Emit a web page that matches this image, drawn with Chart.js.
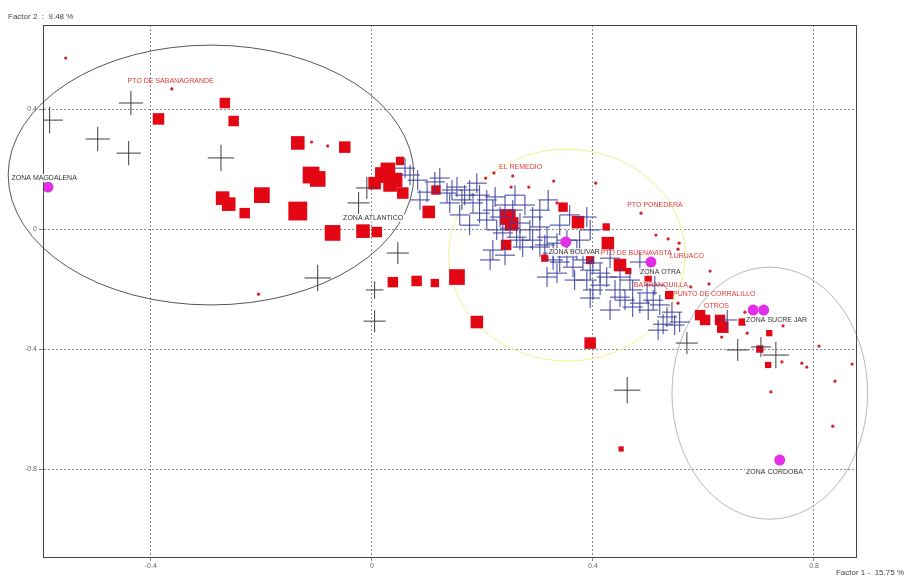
<!DOCTYPE html>
<html>
<head>
<meta charset="utf-8">
<script src="https://cdn.jsdelivr.net/npm/chart.js@4.4.1/dist/chart.umd.min.js"></script>
<style>
html, body { margin: 0; padding: 0; background: #fff; }
</style>
</head>
<body>
<canvas id="chart" width="910" height="579"></canvas>
<script>
// axis ticks
const xTicks = [-0.4, 0, 0.4, 0.8];
const yTicks = [0.4, 0, -0.4, -0.8];
const xTitle = 'Factor 1 -  15.75 %';
const yTitle = 'Factor 2  :  9.48 %';

// modalities (red squares), weight = relative mass
const sqX = [-0.266, -0.386, -0.250, -0.134, -0.049, -0.110, -0.098, 0.020, 0.042, 0.056, 0.051, 0.116, -0.270, -0.259, -0.199, -0.230, -0.134, -0.071, -0.016, 0.009, 0.103, 0.038, 0.081, 0.114, 0.154, 0.190, 0.246, 0.253, 0.243, 0.313, 0.346, 0.373, 0.424, 0.427, 0.395, 0.395, 0.449, 0.538, 0.594, 0.603, 0.630, 0.635, 0.670, 0.719, 0.702, 0.717, 0.451, 0.033, 0.500, 0.464, 0.029, 0.005];
const sqY = [0.420, 0.367, 0.360, 0.287, 0.273, 0.180, 0.167, 0.180, 0.163, 0.120, 0.227, 0.130, 0.103, 0.083, 0.113, 0.053, 0.060, -0.013, -0.007, -0.010, 0.057, -0.177, -0.173, -0.180, -0.160, -0.310, 0.040, 0.017, -0.053, -0.097, 0.073, 0.023, 0.007, -0.047, -0.103, -0.380, -0.120, -0.220, -0.287, -0.303, -0.303, -0.327, -0.310, -0.347, -0.400, -0.453, -0.733, 0.147, -0.163, -0.140, 0.197, 0.153];
const sqW = [1.0, 1.1, 1.0, 1.3, 1.1, 1.6, 1.5, 1.5, 1.4, 1.1, 0.8, 0.9, 1.3, 1.3, 1.5, 1.0, 1.8, 1.5, 1.3, 1.0, 1.2, 1.0, 1.0, 0.8, 1.5, 1.2, 1.5, 1.3, 1.0, 0.7, 0.9, 1.2, 0.7, 1.2, 0.8, 1.1, 1.2, 0.8, 1.0, 1.0, 1.0, 1.1, 0.7, 0.6, 0.7, 0.6, 0.5, 1.3, 0.7, 0.6, 1.4, 1.2];

// small modalities (red dots)
const dotX = [-0.362, -0.109, -0.080, 0.206, 0.221, 0.255, 0.252, 0.284, 0.329, 0.335, 0.405, 0.487, 0.514, 0.536, 0.556, 0.554, 0.554, 0.612, 0.610, 0.577, 0.675, 0.633, 0.679, 0.744, 0.742, 0.778, 0.787, 0.722, 0.838, 0.834, 0.869, -0.205, -0.554, 0.809];
const dotY = [0.467, 0.290, 0.277, 0.170, 0.187, 0.177, 0.140, 0.140, 0.160, 0.087, 0.153, 0.053, -0.020, -0.033, -0.047, -0.067, -0.247, -0.140, -0.183, -0.193, -0.277, -0.360, -0.347, -0.323, -0.443, -0.447, -0.460, -0.543, -0.507, -0.657, -0.450, -0.217, 0.570, -0.390];

// individuals (blue crosses)
const blueX = [0.114, 0.100, 0.136, 0.190, 0.208, 0.183, 0.223, 0.219, 0.195, 0.232, 0.208, 0.255, 0.268, 0.291, 0.286, 0.304, 0.317, 0.291, 0.262, 0.237, 0.226, 0.273, 0.304, 0.335, 0.353, 0.328, 0.353, 0.371, 0.382, 0.400, 0.395, 0.413, 0.389, 0.400, 0.425, 0.449, 0.467, 0.472, 0.449, 0.498, 0.509, 0.472, 0.534, 0.389, 0.395, 0.219, 0.214, 0.335, 0.317, 0.364, 0.328, 0.141, 0.154, 0.069, 0.527, 0.548, 0.643, 0.087, 0.168, 0.259, 0.304, 0.340, 0.431, 0.485, 0.512, 0.431,
    0.060, 0.083, 0.123, 0.145, 0.163, 0.177, 0.195, 0.241, 0.277, 0.250, 0.268, 0.313, 0.340, 0.367, 0.413, 0.440, 0.458, 0.485, 0.500, 0.521, 0.543, 0.557, 0.518, 0.395, 0.376, 0.358, 0.319, 0.177, 0.159, 0.241];
const blueY = [0.157, 0.123, 0.120, 0.153, 0.097, 0.087, 0.107, 0.063, 0.053, 0.040, 0.030, 0.063, 0.020, 0.040, -0.003, 0.007, -0.027, -0.037, -0.027, -0.013, -0.003, -0.060, -0.060, -0.047, -0.037, -0.080, -0.093, -0.070, -0.103, -0.113, -0.137, -0.147, -0.170, -0.203, -0.160, -0.160, -0.170, -0.203, -0.227, -0.213, -0.237, -0.260, -0.293, 0.040, -0.003, -0.070, -0.103, -0.147, -0.160, -0.127, -0.103, 0.087, 0.140, 0.180, -0.317, -0.320, -0.303, 0.097, 0.113, 0.113, 0.063, 0.013, -0.097, -0.110, -0.187, -0.270,
    0.203, 0.163, 0.170, 0.130, 0.097, 0.130, 0.113, 0.080, 0.080, 0.003, -0.037, -0.053, -0.110, -0.170, -0.187, -0.203, -0.237, -0.247, -0.270, -0.253, -0.277, -0.310, -0.337, -0.230, -0.037, 0.047, 0.097, 0.013, 0.047, -0.087];

// individuals (dark crosses), weight = relative mass
const darkX = [-0.583, -0.436, -0.496, -0.440, -0.273, -0.098, 0.005, 0.005, 0.047, -0.024, -0.009, 0.462, 0.570, 0.662, 0.731, 0.704];
const darkY = [0.363, 0.420, 0.300, 0.253, 0.237, -0.163, -0.203, -0.307, -0.080, 0.087, 0.137, -0.537, -0.380, -0.403, -0.420, -0.393];
const darkW = [1.2, 1.1, 1.1, 1.1, 1.2, 1.2, 0.8, 1.0, 1.0, 1.0, 1.0, 1.2, 1.0, 1.0, 1.2, 0.9];

// zones (magenta)
const zoneX = [-0.586, 0.351, 0.505, 0.690, 0.709, 0.738];
const zoneY = [0.140, -0.043, -0.110, -0.270, -0.270, -0.770];

// text labels
const labelText = ['PTO DE SABANAGRANDE', 'ZONA MAGDALENA', 'ZONA ATLANTICO', 'EL REMEDIO', 'PTO PONEDERA', 'ZONA BOLIVAR', 'PTO DE BUENAVISTA', 'LURUACO', 'ZONA OTRA', 'BARRANQUILLA', 'PUNTO DE CORRALILLO', 'OTROS', 'ZONA SUCRE JAR', 'ZONA CORDOBA'];
const labelX = [-0.442, -0.652, -0.052, 0.230, 0.462, 0.320, 0.414, 0.539, 0.485, 0.474, 0.545, 0.601, 0.677, 0.677];
const labelY = [0.493, 0.170, 0.037, 0.207, 0.080, -0.077, -0.080, -0.090, -0.143, -0.187, -0.217, -0.257, -0.303, -0.810];
const labelIsZone = [false, true, true, false, false, true, false, false, true, false, false, false, true, true];

// confidence ellipses [cx, cy, rx, ry]
const ellBlack = [-0.291, 0.180, 0.367, 0.433];
const ellYellow = [0.353, -0.087, 0.214, 0.353];
const ellGray = [0.720, -0.547, 0.177, 0.420];

const pts = (xs, ys) => xs.map((x, i) => ({ x: x, y: ys[i] }));

const ellipsePlugin = {
    id: 'ellipses',
    beforeDatasetsDraw(chart) {
        const { ctx, scales: { x, y } } = chart;
        const list = [[ellBlack, '#555'], [ellYellow, '#f3f08a'], [ellGray, '#b8b8b8']];
        ctx.save();
        ctx.lineWidth = 1;
        list.forEach(([e, col]) => {
            const cx = x.getPixelForValue(e[0]);
            const cy = y.getPixelForValue(e[1]);
            const rx = Math.abs(x.getPixelForValue(e[0] + e[2]) - cx);
            const ry = Math.abs(y.getPixelForValue(e[1] + e[3]) - cy);
            ctx.strokeStyle = col;
            ctx.beginPath();
            ctx.ellipse(cx, cy, rx, ry, 0, 0, Math.PI * 2);
            ctx.stroke();
        });
        ctx.restore();
    }
};

const framePlugin = {
    id: 'frame',
    afterDraw(chart) {
        const { ctx, chartArea: a, scales: { x, y } } = chart;
        ctx.save();
        ctx.strokeStyle = '#444';
        ctx.lineWidth = 1;
        ctx.strokeRect(a.left + 0.5, a.top + 0.5, a.right - a.left, a.bottom - a.top);

        ctx.font = '7px "Liberation Sans", Arial, sans-serif';
        ctx.textBaseline = 'middle';
        labelText.forEach((t, i) => {
            const px = x.getPixelForValue(labelX[i]);
            const py = y.getPixelForValue(labelY[i]);
            if (labelIsZone[i]) {
                const w = ctx.measureText(t).width;
                ctx.fillStyle = 'rgba(255,255,255,0.85)';
                ctx.fillRect(px - 1, py - 4, w + 2, 8);
                ctx.fillStyle = '#333';
            } else {
                ctx.fillStyle = '#e23a3a';
            }
            ctx.textAlign = 'left';
            ctx.fillText(t, px, py);
        });

        ctx.font = '8px "Liberation Sans", Arial, sans-serif';
        ctx.fillStyle = '#444';
        ctx.textAlign = 'left';
        ctx.fillText(yTitle, 8, 17);
        ctx.textAlign = 'right';
        ctx.fillText(xTitle, 904, 573);
        ctx.restore();
    }
};

const gridOpts = {
    color: '#8a8a8a',
    lineWidth: 1,
    drawTicks: true,
    tickLength: 4,
};

new Chart(document.getElementById('chart'), {
    type: 'scatter',
    data: {
        datasets: [
            {
                label: 'zonas',
                data: pts(zoneX, zoneY),
                pointStyle: 'circle',
                pointRadius: 5.5,
                backgroundColor: '#e22ee6',
                borderColor: '#d020d8',
                borderWidth: 0,
                order: 0,
            },
            {
                label: 'individuos',
                data: pts(darkX, darkY),
                pointStyle: 'cross',
                pointRadius: darkW.map(w => w * 11),
                borderColor: '#3c3c44',
                borderWidth: 1,
                order: 1,
            },
            {
                label: 'individuos azul',
                data: pts(blueX, blueY),
                pointStyle: 'cross',
                pointRadius: 10,
                borderColor: '#3a3f9c',
                borderWidth: 1,
                order: 2,
            },
            {
                label: 'modalidades',
                data: pts(sqX, sqY),
                pointStyle: 'rect',
                pointRadius: sqW.map(w => w * 7.4),
                backgroundColor: '#e30613',
                borderWidth: 0,
                order: 3,
            },
            {
                label: 'modalidades menores',
                data: pts(dotX, dotY),
                pointStyle: 'circle',
                pointRadius: 1.6,
                backgroundColor: '#d8202a',
                borderWidth: 0,
                order: 4,
            },
        ],
    },
    options: {
        responsive: false,
        devicePixelRatio: 1,
        animation: false,
        layout: { padding: { left: 0, right: 54, top: 25, bottom: 0 } },
        plugins: {
            legend: { display: false },
            tooltip: { enabled: false },
        },
        scales: {
            x: {
                type: 'linear',
                min: -0.595,
                max: 0.876,
                afterBuildTicks: s => { s.ticks = xTicks.map(v => ({ value: v })); },
                afterFit: s => { s.height = 22; },
                grid: gridOpts,
                border: { display: true, color: '#444', dash: [2, 2] },
                ticks: {
                    color: '#666',
                    font: { size: 7, family: '"Liberation Sans", Arial, sans-serif' },
                    padding: 1,
                    maxRotation: 0,
                    callback: v => String(v),
                },
            },
            y: {
                type: 'linear',
                min: -1.093,
                max: 0.68,
                afterBuildTicks: s => { s.ticks = yTicks.map(v => ({ value: v })); },
                afterFit: s => { s.width = 43; },
                grid: gridOpts,
                border: { display: true, color: '#444', dash: [2, 2] },
                ticks: {
                    color: '#666',
                    font: { size: 7, family: '"Liberation Sans", Arial, sans-serif' },
                    padding: 2,
                    callback: v => String(v),
                },
            },
        },
    },
    plugins: [ellipsePlugin, framePlugin],
});
</script>
</body>
</html>
